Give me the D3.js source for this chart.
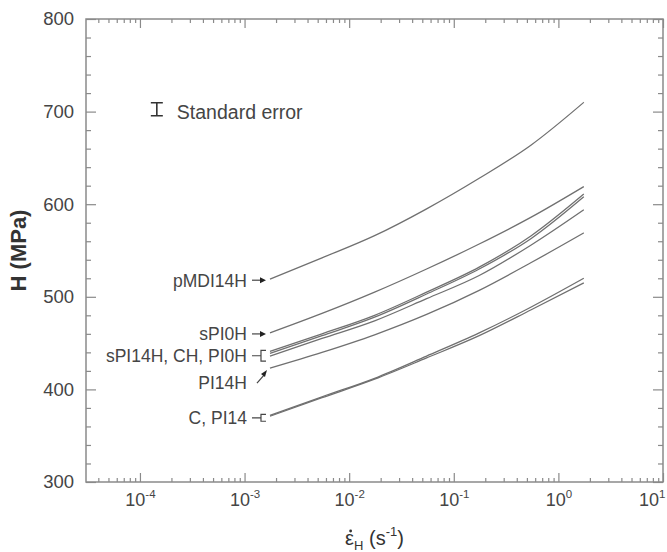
<!DOCTYPE html>
<html>
<head>
<meta charset="utf-8">
<script src="https://cdn.jsdelivr.net/npm/d3@7"></script>
<style>
  body { margin: 0; background: #fff; }
  svg { display: block; font-family: "Liberation Sans", Arial, sans-serif; }
</style>
</head>
<body>
<svg id="chart" width="667" height="552"></svg>
<script>
// strain rates (s^-1) at which H was read
const rates = [0.00175, 0.0055, 0.0175, 0.055, 0.175, 0.55, 1.75]

// hardness H (MPa) per material
const pMDI14H = [519, 542, 566, 595, 628, 664, 710]
const sPI0H = [461, 482, 505, 530, 557, 586, 619]
const sPI14H = [441, 460, 480, 505, 532, 566, 611]
const CH = [439, 458, 478, 503, 530, 563, 608]
const PI0H = [436, 455, 474, 498, 523, 556, 594]
const PI14H = [423, 440, 459, 481, 507, 537, 569]
const C = [372, 392, 412, 436, 461, 489, 520]
const PI14 = [371, 391, 411, 434, 458, 486, 515]

const series = [pMDI14H, sPI0H, sPI14H, CH, PI0H, PI14H, C, PI14]

const xTickExps = [-4, -3, -2, -1, 0, 1]
const yTicks = [300, 400, 500, 600, 700, 800]

// labels next to the curve starts
const labels = [
  { text: "pMDI14H", members: [pMDI14H], kind: "arrow" },
  { text: "sPI0H", members: [sPI0H], kind: "arrow" },
  { text: "sPI14H, CH, PI0H", members: [sPI14H, CH, PI0H], kind: "bracket" },
  { text: "PI14H", members: [PI14H], kind: "diag" },
  { text: "C, PI14", members: [C, PI14], kind: "bracket" },
]

const margin = { top: 19, right: 4, bottom: 70, left: 86 }
const svg = d3.select("#chart")
const width = +svg.attr("width")
const height = +svg.attr("height")
const plotW = width - margin.left - margin.right
const plotH = height - margin.top - margin.bottom

const axisColor = "#8a8a8a"
const textColor = "#454545"
const lineColor = "#707070"

const x = d3.scaleLog().domain([3.05e-5, 10]).range([0, plotW])
const y = d3.scaleLinear().domain([300, 800]).range([plotH, 0])

const g = svg.append("g").attr("transform", `translate(${margin.left},${margin.top})`)

// frame
g.append("rect")
  .attr("width", plotW).attr("height", plotH)
  .attr("fill", "none").attr("stroke", axisColor).attr("stroke-width", 1.5)

const majors = xTickExps.map(e => Math.pow(10, e))
const minors = x.ticks().filter(v => {
  const l = Math.log10(v)
  return Math.abs(l - Math.round(l)) > 1e-6
})
const yMinors = d3.range(320, 800, 20).filter(v => v % 100 !== 0)

function styleAxis(sel) {
  sel.select(".domain").remove()
  sel.selectAll("line").attr("stroke", axisColor).attr("stroke-width", 1.2)
}

// x axes bottom + top (inward ticks)
g.append("g").attr("transform", `translate(0,${plotH})`)
  .call(d3.axisBottom(x).tickValues(minors).tickSize(-4).tickFormat(""))
  .call(styleAxis)
const xBottom = g.append("g").attr("transform", `translate(0,${plotH})`)
  .call(d3.axisBottom(x).tickValues(majors).tickSize(-9).tickFormat(""))
  .call(styleAxis)
g.append("g")
  .call(d3.axisTop(x).tickValues(minors).tickSize(-4).tickFormat(""))
  .call(styleAxis)
g.append("g")
  .call(d3.axisTop(x).tickValues(majors).tickSize(-9).tickFormat(""))
  .call(styleAxis)

// x tick labels 10^n (last one kept inside the page)
xBottom.selectAll(".tick text").remove()
xBottom.selectAll(".tick").each(function (d, i, nodes) {
  const last = i === nodes.length - 1
  const t = d3.select(this).append("text")
    .attr("y", 24)
    .attr("x", last ? 2 : 0)
    .attr("text-anchor", last ? "end" : "middle")
    .attr("fill", textColor)
    .attr("font-size", 18)
  t.append("tspan").text("10")
  t.append("tspan").attr("dy", -8).attr("font-size", 11.5).text(Math.round(Math.log10(d)))
})

// y axes left + right
const yLeft = g.append("g")
  .call(d3.axisLeft(y).tickValues(yTicks).tickSize(-10).tickPadding(12))
  .call(styleAxis)
g.append("g")
  .call(d3.axisLeft(y).tickValues(yMinors).tickSize(-5).tickFormat(""))
  .call(styleAxis)
g.append("g").attr("transform", `translate(${plotW},0)`)
  .call(d3.axisRight(y).tickValues(yTicks).tickSize(-10).tickFormat(""))
  .call(styleAxis)
g.append("g").attr("transform", `translate(${plotW},0)`)
  .call(d3.axisRight(y).tickValues(yMinors).tickSize(-5).tickFormat(""))
  .call(styleAxis)

yLeft.selectAll(".tick text")
  .attr("fill", textColor)
  .attr("font-size", 18.5)
  .attr("font-family", "Liberation Sans, Arial, sans-serif")

// curves
const line = d3.line()
  .x((d, i) => x(rates[i]))
  .y(d => y(d))
  .curve(d3.curveMonotoneX)

g.selectAll(".curve")
  .data(series)
  .join("path")
  .attr("class", "curve")
  .attr("d", line)
  .attr("fill", "none")
  .attr("stroke", lineColor)
  .attr("stroke-width", 1.3)

// curve labels with leaders
const x0 = x(rates[0])
const ann = g.append("g")
labels.forEach(lab => {
  const ys = lab.members.map(s => y(s[0]))
  const yc = d3.mean(ys)
  let ty = yc
  if (lab.kind === "arrow") {
    ty = yc + 1
    ann.append("line")
      .attr("x1", x0 - 18).attr("x2", x0 - 8)
      .attr("y1", yc + 1).attr("y2", yc + 1)
      .attr("stroke", textColor).attr("stroke-width", 1.2)
    ann.append("path")
      .attr("d", `M${x0 - 4},${yc + 1} L${x0 - 10},${yc - 2} L${x0 - 10},${yc + 4} Z`)
      .attr("fill", "#222")
  } else if (lab.kind === "bracket") {
    const top = d3.min(ys) - 1
    const bot = d3.max(ys) + 5
    const mid = (top + bot) / 2
    ty = mid
    ann.append("path")
      .attr("d", `M${x0 - 18},${mid} L${x0 - 9},${mid} M${x0 - 4},${top} L${x0 - 9},${top} L${x0 - 9},${bot} L${x0 - 4},${bot}`)
      .attr("fill", "none").attr("stroke", textColor).attr("stroke-width", 1.2)
  } else {
    ty = yc + 15
    ann.append("line")
      .attr("x1", x0 - 13).attr("y1", yc + 15)
      .attr("x2", x0 - 6).attr("y2", yc + 7)
      .attr("stroke", textColor).attr("stroke-width", 1.2)
    ann.append("path")
      .attr("d", `M${x0 - 3},${yc + 2} L${x0 - 9},${yc + 6} L${x0 - 5},${yc + 9} Z`)
      .attr("fill", "#222")
  }
  ann.append("text")
    .attr("x", x0 - 23)
    .attr("y", ty)
    .attr("dy", "0.36em")
    .attr("text-anchor", "end")
    .attr("fill", textColor)
    .attr("font-size", 17.5)
    .text(lab.text)
})

// standard error legend
const legX = x(1.45e-4)
const legY = y(702)
ann.append("path")
  .attr("d", `M${legX - 6},${legY - 7} L${legX + 6},${legY - 7} M${legX},${legY - 7} L${legX},${legY + 6} M${legX - 6},${legY + 6} L${legX + 6},${legY + 6}`)
  .attr("stroke", "#333").attr("stroke-width", 1.6).attr("fill", "none")
ann.append("text")
  .attr("x", legX + 20)
  .attr("y", legY + 2)
  .attr("dy", "0.36em")
  .attr("fill", textColor)
  .attr("font-size", 19.5)
  .text("Standard error")

// y axis title
svg.append("text")
  .attr("transform", `translate(26,${margin.top + plotH / 2}) rotate(-90)`)
  .attr("text-anchor", "middle")
  .attr("fill", "#333")
  .attr("font-size", 22)
  .attr("font-weight", "bold")
  .text("H (MPa)")

// x axis title: epsilon-dot_H (s^-1)
const xt = svg.append("text")
  .attr("x", margin.left + plotW / 2)
  .attr("y", 545)
  .attr("text-anchor", "middle")
  .attr("fill", "#333")
  .attr("font-size", 20)
const eps = xt.append("tspan").text("ε")
xt.append("tspan").attr("dy", 5).attr("font-size", 13).text("H")
xt.append("tspan").attr("dy", -5).text(" (s")
xt.append("tspan").attr("dy", -9).attr("font-size", 13).text("-1")
xt.append("tspan").attr("dy", 9).text(")")
const eb = eps.node().getBBox()
svg.append("circle")
  .attr("cx", eb.x + eb.width / 2 + 1)
  .attr("cy", eb.y + 4)
  .attr("r", 1.4)
  .attr("fill", "#333")
</script>
</body>
</html>
